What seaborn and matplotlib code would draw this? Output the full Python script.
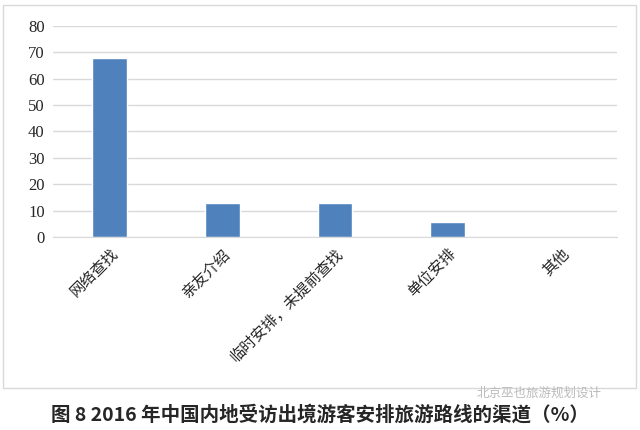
import matplotlib
matplotlib.use("Agg")
import matplotlib.pyplot as plt
import seaborn as sns
import pandas as pd
from matplotlib.patches import Rectangle

categories = ["网络查找", "亲友介绍", "临时安排，未提前查找", "单位安排", "其他"]
values = [68, 13, 13, 5.5, 0]
yticks = [0, 10, 20, 30, 40, 50, 60, 70, 80]
title = "图 8 2016 年中国内地受访出境游客安排旅游路线的渠道（%）"

sns.set_style("white")
plt.rcParams['font.family'] = ['Noto Sans CJK SC', 'DejaVu Sans']

fig = plt.figure(figsize=(6.4, 4.3), dpi=100)
fig.patches.append(Rectangle((3/640, 1-388/430), 633/640, 383/430, transform=fig.transFigure,
                             fill=False, edgecolor="#d9d9d9", lw=1))
ax = fig.add_axes([53/640, 1-237/430, 564/640, 211/430])
df = pd.DataFrame({"cat": categories, "val": values})
sns.barplot(data=df, x="cat", y="val", color="#4f81bd", saturation=1, width=0.31, ax=ax)
ax.set_ylim(0, 80)
ax.set_yticks(yticks)
ax.set_yticklabels([str(t) for t in yticks], fontsize=12, family="Liberation Serif")
ax.yaxis.grid(True, color="#d9d9d9", lw=1)
ax.set_axisbelow(True)
for s in ["top", "right", "left"]:
    ax.spines[s].set_visible(False)
ax.spines["bottom"].set_color("#d9d9d9")
ax.tick_params(axis="both", length=0, pad=6)
ax.set_xticks(range(len(categories)))
ax.set_xticklabels(categories, rotation=45, ha="right", rotation_mode="anchor", fontsize=11)
ax.set_xlabel("")
ax.set_ylabel("")
fig.text(0.5, 1-415/430, title, ha="center", va="center", fontsize=14, fontweight="bold")
fig.text(0.745, 1-393/430, "北京巫也旅游规划设计", ha="left", va="center", fontsize=9, color="#bbbbbb")
fig.savefig("out.png", dpi=100)
